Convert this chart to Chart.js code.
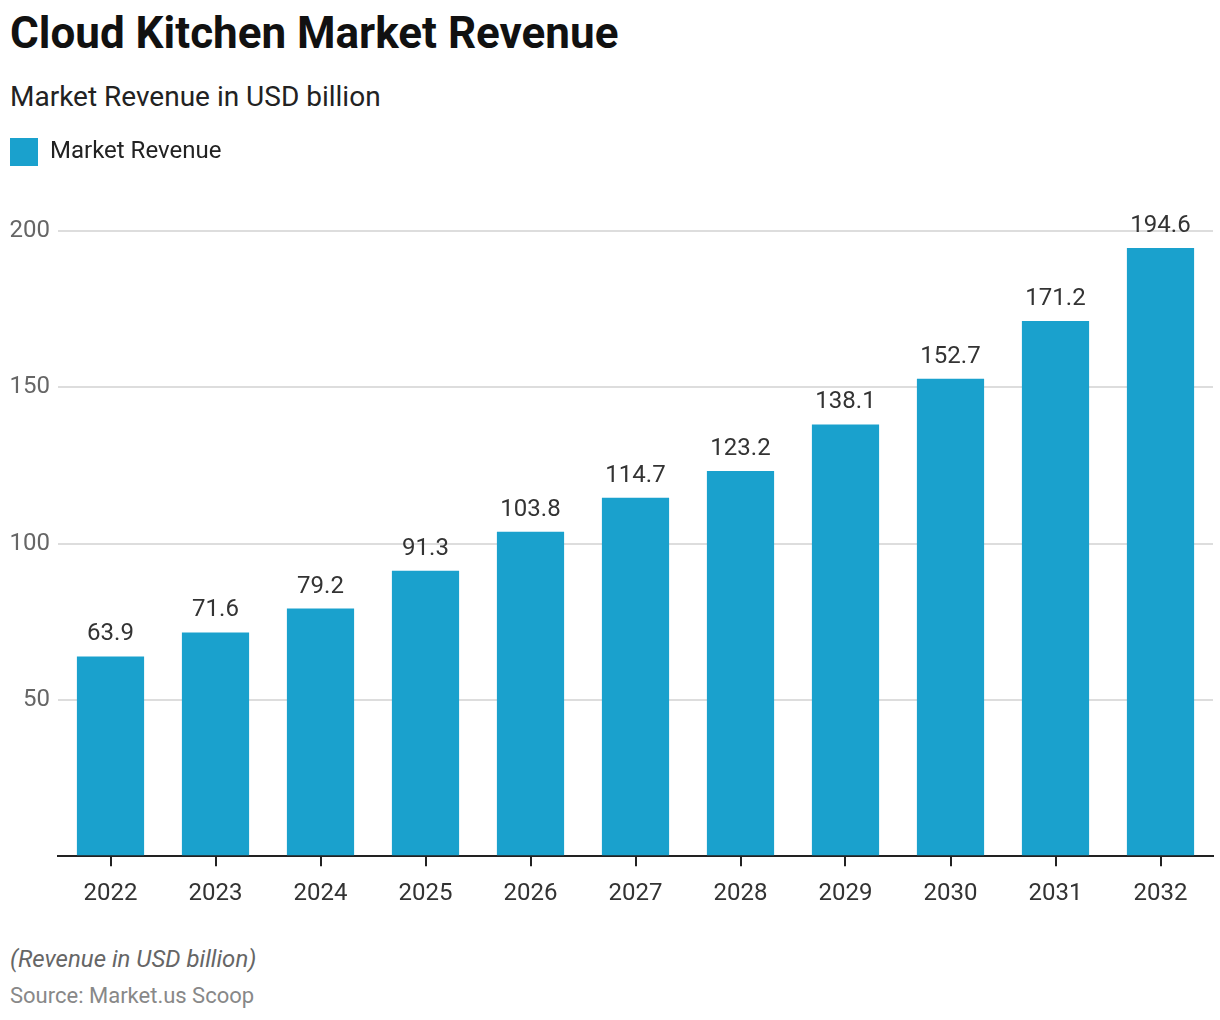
<!DOCTYPE html>
<html>
<head>
<meta charset="utf-8">
<script src="https://cdn.jsdelivr.net/npm/chart.js@4"></script>
<style>
  body { margin: 0; background: #fff; font-family: Roboto, sans-serif; }
  #page { position: relative; width: 1220px; height: 1020px; }
  .title { position: absolute; left: 10px; top: 7px; font-size: 44px; font-weight: 700; color: #111; }
  .subtitle { position: absolute; left: 10px; top: 80px; font-size: 28px; color: #222; }
  .note { position: absolute; left: 10px; top: 945px; font-size: 24px; font-style: italic; color: #666; }
  .source { position: absolute; left: 10px; top: 983px; font-size: 22px; color: #888; }
  #wrap { position: absolute; left: 0; top: 130px; width: 1220px; height: 791px; }
</style>
</head>
<body>
<div id="page">
  <div class="title">Cloud Kitchen Market Revenue</div>
  <div class="subtitle">Market Revenue in USD billion</div>
  <div id="wrap"><canvas id="revenueChart"></canvas></div>
  <div class="note">(Revenue in USD billion)</div>
  <div class="source">Source: Market.us Scoop</div>
</div>
<script>
const years = ['2022', '2023', '2024', '2025', '2026', '2027', '2028', '2029', '2030', '2031', '2032'];
const revenue = [63.9, 71.6, 79.2, 91.3, 103.8, 114.7, 123.2, 138.1, 152.7, 171.2, 194.6];
const yTicks = [50, 100, 150, 200];

// labels over each bar
const valueLabels = {
    id: 'valueLabels',
    afterDatasetsDraw(chart) {
        const ctx = chart.ctx;
        const meta = chart.getDatasetMeta(0);
        ctx.save();
        ctx.font = '24px Roboto';
        ctx.fillStyle = '#333';
        ctx.textAlign = 'center';
        ctx.textBaseline = 'alphabetic';
        meta.data.forEach(function(bar, i) {
            ctx.fillText(revenue[i].toFixed(1), bar.x, bar.y - 16);
        });
        ctx.restore();
    }
};

// extra space under the legend
const legendGap = {
    id: 'legendGap',
    beforeInit(chart) {
        const fit = chart.legend.fit;
        chart.legend.fit = function() {
            fit.bind(chart.legend)();
            this.height += 55;
        };
    }
};

const ctx = document.getElementById('revenueChart').getContext('2d');
const revenueChart = new Chart(ctx, {
    type: 'bar',
    data: {
        labels: years,
        datasets: [{
            label: 'Market Revenue',
            data: revenue,
            backgroundColor: '#1aa1cd',
            categoryPercentage: 1,
            barPercentage: 0.64
        }]
    },
    options: {
        responsive: true,
        maintainAspectRatio: false,
        animation: false,
        layout: { padding: { left: 10, right: 7, top: 8, bottom: 0 } },
        plugins: {
            legend: {
                position: 'top',
                align: 'start',
                labels: {
                    boxWidth: 28,
                    boxHeight: 28,
                    color: '#222',
                    font: { family: 'Roboto', size: 24 },
                    padding: 0
                }
            },
            tooltip: { enabled: false }
        },
        scales: {
            x: {
                grid: {
                    offset: false,
                    drawOnChartArea: false,
                    drawTicks: true,
                    tickLength: 10,
                    color: '#222',
                    lineWidth: 2
                },
                border: { display: true, color: '#222', width: 2 },
                ticks: {
                    color: '#333',
                    font: { family: 'Roboto', size: 24 },
                    padding: 13
                }
            },
            y: {
                min: 0,
                max: 200,
                afterBuildTicks: function(axis) {
                    axis.ticks = [0].concat(yTicks).map(function(v) { return { value: v }; });
                },
                afterFit: function(axis) {
                    axis.width = 48;
                },
                grid: { color: '#dddddd', lineWidth: 2, drawTicks: false },
                border: { display: false },
                ticks: {
                    color: '#666',
                    font: { family: 'Roboto', size: 24 },
                    padding: 8,
                    callback: function(value) { return value === 0 ? '' : value; }
                }
            }
        }
    },
    plugins: [valueLabels, legendGap]
});
</script>
</body>
</html>
